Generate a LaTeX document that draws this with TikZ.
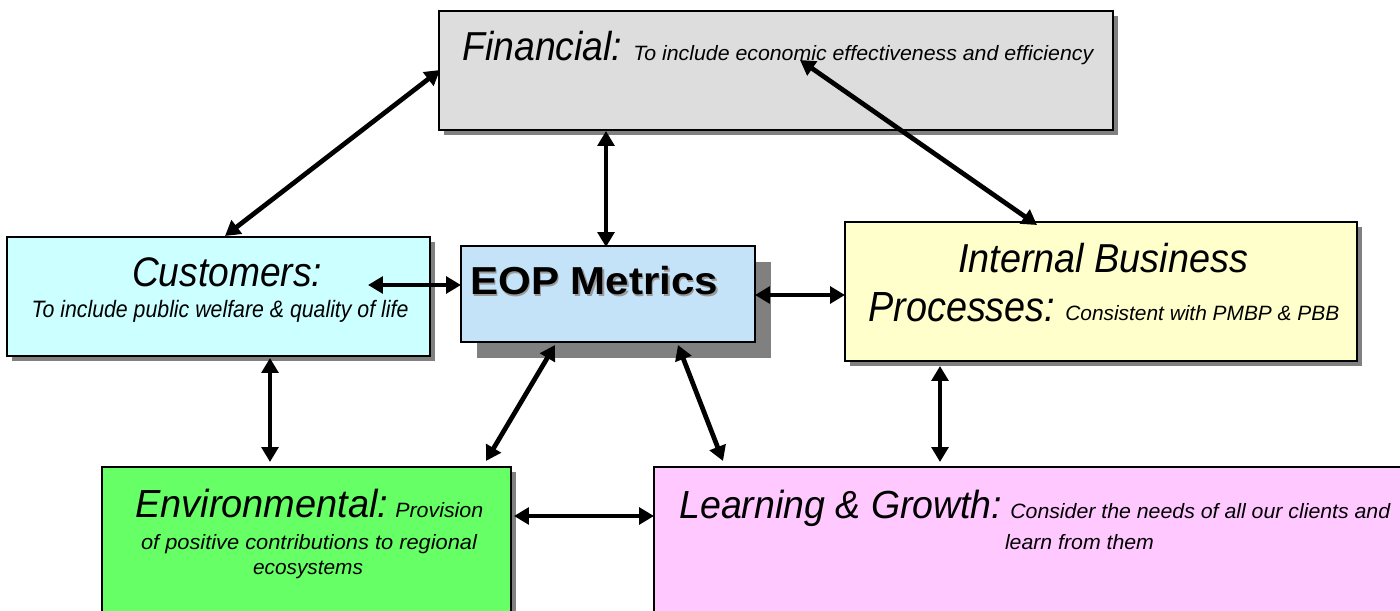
\documentclass[tikz,border=0pt]{standalone}
\usepackage{fontspec}
\setmainfont{Liberation Sans}
\usepackage{graphicx}
\usetikzlibrary{arrows.meta,shadows}
\definecolor{finc}{HTML}{DDDDDD}
\definecolor{custc}{HTML}{CCFFFF}
\definecolor{eopc}{HTML}{C4E2F8}
\definecolor{intc}{HTML}{FFFFCC}
\definecolor{envc}{HTML}{66FF66}
\definecolor{learnc}{HTML}{FFC8FF}
\newcommand{\fA}{\fontsize{23.5}{28}\selectfont}
\newcommand{\fB}{\fontsize{13.5}{16}\selectfont}
\newcommand{\fC}{\fontsize{23}{27}\selectfont}
\newcommand{\fD}{\fontsize{11.8}{14}\selectfont}
\newcommand{\fE}{\fontsize{22.3}{27}\selectfont}
\newcommand{\fitw}[2]{\resizebox{#1}{\height}{#2}}
\begin{document}
\begin{tikzpicture}[x=0.02cm,y=-0.02cm,
  box/.style={draw=black, line width=1.1pt, inner sep=0pt,
    drop shadow={opacity=1, fill=black!50, shadow xshift=0.1cm, shadow yshift=-0.1cm}},
  conn/.style={{Triangle[length=8.5pt,width=9.5pt]}-{Triangle[length=8.5pt,width=9.5pt]}, line width=2.7pt},
  lbl/.style={inner sep=0pt, anchor=base, font=\itshape}]
\clip (0,0) rectangle (1400,611);
\fill[white] (0,0) rectangle (1400,611);

% boxes
\node[box, fill=finc, minimum width=13.48cm, minimum height=2.38cm] (fin) at (776,70.5) {};
\node[box, fill=custc, minimum width=8.46cm, minimum height=2.38cm] (cust) at (218.5,296.5) {};
\node[draw=black, line width=1.1pt, inner sep=0pt, fill=eopc, minimum width=5.88cm, minimum height=1.92cm,
  drop shadow={opacity=1, fill=black!50, shadow xshift=0.32cm, shadow yshift=-0.32cm}] (eop) at (608,294) {};
\node[box, fill=intc, minimum width=10.24cm, minimum height=2.78cm] (int) at (1101,291.5) {};
\node[box, fill=envc, minimum width=8.18cm, minimum height=3.86cm] (env) at (306.5,563.5) {};
\node[box, fill=learnc, minimum width=15.32cm, minimum height=3.86cm] (learn) at (1037,563.5) {};

% texts
\node[lbl, anchor=base west] (finT) at (462,61) {\fitw{3.2cm}{\fC Financial:}\hspace{0.22cm}\fitw{9.2cm}{\fD To include economic effectiveness and efficiency}};
\node[lbl] (custT) at (227,287) {\fitw{3.8cm}{\fA Customers:}};
\node[lbl] (custS) at (220,317) {\fitw{7.54cm}{\fB To include public welfare \& quality of life}};
\node[inner sep=0pt, anchor=base west, text=black!40, font=\bfseries\fontsize{22.2}{26}\selectfont] (eopS) at (471.5,296.5) {\fitw{4.96cm}{EOP Metrics}};
\node[inner sep=0pt, anchor=base west, font=\bfseries\fontsize{22.2}{26}\selectfont] (eopT) at (470,295) {\fitw{4.96cm}{EOP Metrics}};
\node[lbl] (intT1) at (1103,273) {\fitw{5.8cm}{\fC Internal Business}};
\node[lbl, anchor=base west] (intT2) at (868,321) {\fitw{3.74cm}{\fontsize{24}{28}\selectfont Processes:}\hspace{0.2cm}\fitw{5.48cm}{\fD Consistent with PMBP \& PBB}};
\node[lbl, anchor=base west] (envT1) at (135,517) {\fitw{5.06cm}{\fE Environmental:}\hspace{0.14cm}\fitw{1.76cm}{\fD Provision}};
\node[lbl] (envT2) at (309,549) {\fitw{6.72cm}{\fD of positive contributions to regional}};
\node[lbl] (envT3) at (308,574) {\fitw{2.2cm}{\fD ecosystems}};
\node[lbl, anchor=base west] (learnT1) at (679,518) {\fitw{6.46cm}{\fE Learning \& Growth:}\hspace{0.16cm}\fitw{7.6cm}{\fD Consider the needs of all our clients and}};
\node[lbl] (learnT2) at (1079.5,549) {\fitw{2.98cm}{\fD learn from them}};

% connector end points
\coordinate (finW) at (440,70);
\coordinate (custN) at (225,236);
\coordinate (finS) at (606,131);
\coordinate (eopN) at (606,247);
\coordinate (finIn) at (800,60);
\coordinate (intN) at (1037,225);
\coordinate (custIn) at (368,285);
\coordinate (eopW) at (461,285);
\coordinate (eopE) at (755,295);
\coordinate (intW) at (845,295);
\coordinate (custS2) at (270,358);
\coordinate (envN) at (270,462);
\coordinate (eopSW) at (555,345);
\coordinate (envNE) at (486,461);
\coordinate (eopSE) at (678,345);
\coordinate (learnNW) at (723,461);
\coordinate (intS) at (940,366);
\coordinate (learnN) at (940,462);
\coordinate (envE) at (514,516);
\coordinate (learnW) at (654,516);

\draw[conn] (finW) -- (custN);
\draw[conn] (finS) -- (eopN);
\draw[conn] (finIn) -- (intN);
\draw[conn] (custIn) -- (eopW);
\draw[conn] (eopE) -- (intW);
\draw[conn] (custS2) -- (envN);
\draw[conn] (eopSW) -- (envNE);
\draw[conn] (eopSE) -- (learnNW);
\draw[conn] (intS) -- (learnN);
\draw[conn] (envE) -- (learnW);
\end{tikzpicture}
\end{document}
